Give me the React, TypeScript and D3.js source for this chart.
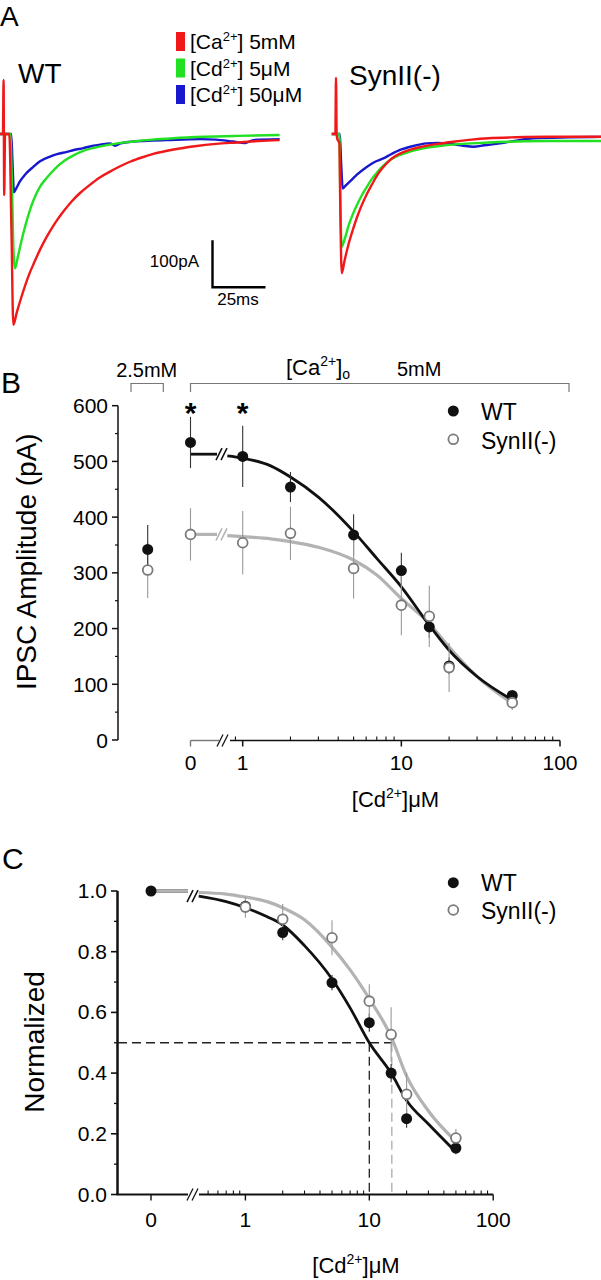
import React from "react";
import * as d3 from "d3";

type Pt = [number, number];

// ---------------- Panel A: IPSC traces  [time (ms from stimulus), current (pA)] ----------------
const wtRed: Pt[] = [[-2,0],[-0.5,0],[-0.2,115],[0.1,-130],[0.5,0],[2.5,0],[3.5,-200],[4.4,-406],[6,-380],[8,-350],[10,-322],[12,-297],[14,-276],[17,-246],[20,-220],[24,-190],[28,-165],[32,-143],[36,-125],[40,-110],[45,-93],[50,-80],[55,-68],[60,-58],[65,-50],[70,-43],[80,-33],[90,-26],[100,-21],[110,-18],[120,-15],[130,-13]];
const wtGreen: Pt[] = [[-2,0],[3.0,0],[3.6,-80],[4.5,-250],[5.2,-286],[6.5,-262],[8,-232],[10,-196],[12,-165],[14,-140],[17,-112],[20,-94],[24,-74],[28.5,-57],[33,-45],[38,-35],[45,-27],[52,-21],[61,-16],[70,-12],[80,-9],[95,-6],[110,-4],[130,-2]];
const wtBlue: Pt[] = [[-2,0],[3.4,0],[4.0,-60],[4.7,-124],[5.5,-118],[7.5,-101],[10,-86],[13.8,-70],[17,-58],[21.7,-48],[25,-43],[29.6,-38],[33,-34],[37.4,-30],[41,-26],[45.3,-23],[50,-20],[52.4,-25],[55,-20],[61,-16],[70,-14],[76.7,-13],[92.5,-11],[100,-12],[108,-16],[113.7,-19],[117.6,-13],[130,-11]];
const synRed: Pt[] = [[-2,0],[-0.3,0],[0,120],[0.3,0],[0.6,-10],[1.6,-20],[2.0,-150],[2.7,-296],[4,-270],[6,-233],[8,-203],[10,-176],[12,-153],[14.5,-128],[17,-107],[19.7,-86],[22,-72],[24.8,-58],[28,-47],[32,-38],[36,-32],[40.6,-27],[48,-21],[56.3,-16],[64,-12],[72,-9],[85,-7],[100,-6],[126,-6]];
const synGreen: Pt[] = [[-2,0],[1.6,0],[2.0,-120],[2.7,-240],[4,-225],[6,-194],[8,-170],[10,-150],[12,-132],[14.5,-113],[17,-95],[19.7,-80],[22,-69],[24.8,-58],[28,-49],[32,-42],[36,-36],[40.6,-31],[48,-26],[56.3,-22],[64,-20],[72,-18],[85,-16],[100,-15],[126,-15]];
const synBlue: Pt[] = [[-2,0],[1.8,0],[2.4,-60],[3.2,-116],[4.5,-110],[6.6,-101],[10,-86],[14.5,-70],[18,-60],[22.3,-52],[26,-43],[30.2,-34],[36,-26],[42.8,-20],[48,-19],[53.8,-21],[60,-25],[64.8,-27],[70,-24],[77.4,-20],[85,-14],[93.1,-9],[110,-7],[126,-6]];

const traceColors = ["#1818cc", "#22e022", "#f01818"]; // blue, green, red
const legendMain = ["[Ca", "[Cd", "[Cd"];
const legendTail = ["] 5mM", "] 5\u03bcM", "] 50\u03bcM"];
const legendColors = ["#f01818", "#22e022", "#1818cc"];
const scaleBarPA = 100;
const scaleBarMS = 25;

// ---------------- Panel B: IPSC amplitude vs [Cd2+] ----------------
const bConc = [0, 1, 2, 5, 10, 15, 20, 50];
const bWtMean = [534, 509, 454, 368, 304, 203, 133, 80];
const bWtErr = [46, 55, 27, 37, 32, 20, 15, 8];
const bSynMean = [369, 354, 371, 308, 242, 222, 130, 67];
const bSynErr = [47, 57, 48, 54, 54, 55, 44, 13];
const bLowCaWt = { mean: 342, err: 44 };
const bLowCaSyn = { mean: 305, err: 50 };
const bFitX = [0.8, 1, 1.5, 2, 3, 5, 7, 10, 15, 20, 30, 50];
const bWtFit = [510, 506, 492, 472, 436, 374, 326, 275, 206, 161, 114, 72];
const bSynFit = [367, 365, 361, 356, 346, 323, 296, 254, 209, 167, 114, 66];
const bWtFit0 = 513;
const bSynFit0 = 369;
const bYTicks = [0, 100, 200, 300, 400, 500, 600];
const bYMinor = [50, 150, 250, 350, 450, 550];
const xMajor = [1, 10, 100];
const bXMinor = [0.9, 2, 3, 4, 5, 6, 7, 8, 9, 20, 30, 40, 50, 60, 70, 80, 90];
const starConc = [0, 1];

// ---------------- Panel C: normalized ----------------
const cConc = [0, 1, 2, 5, 10, 15, 20, 50];
const cWtMean = [1.0, 0.95, 0.863, 0.698, 0.566, 0.4, 0.25, 0.153];
const cWtErr = [0, 0.02, 0.025, 0.025, 0.03, 0.03, 0.03, 0.02];
const cSynConc = [1, 2, 5, 10, 15, 20, 50];
const cSynMean = [0.947, 0.907, 0.846, 0.637, 0.527, 0.33, 0.186];
const cSynErr = [0.035, 0.05, 0.058, 0.056, 0.09, 0.072, 0.03];
const cFitX = [0.42, 0.7, 1, 1.5, 2, 3, 5, 7, 10, 15, 20, 30, 50];
const cWtFit = [0.983, 0.965, 0.945, 0.915, 0.888, 0.82, 0.71, 0.615, 0.5, 0.4, 0.31, 0.232, 0.14];
const cSynFit = [0.995, 0.99, 0.98, 0.965, 0.945, 0.905, 0.815, 0.74, 0.645, 0.52, 0.39, 0.275, 0.175];
const cIC50Wt = 10;
const cIC50Syn = 15.2;
const cYTicks = [0, 0.2, 0.4, 0.6, 0.8, 1.0];
const cYMinor = [0.1, 0.3, 0.5, 0.7, 0.9];
const cXMinor = [0.5, 0.6, 0.7, 0.8, 0.9, 2, 3, 4, 5, 6, 7, 8, 9, 20, 30, 40, 50, 60, 70, 80, 90];

const FONT = "'Liberation Sans', Arial, Helvetica, sans-serif";
const BLACK = "#111";
const GRAY_FIT = "#b3b3b3";
const GRAY_PT = "#7a7a7a";

function Slashes({ x, y, stroke, w = 1.4 }: { x: number; y: number; stroke: string; w?: number }) {
  return (
    <g stroke={stroke} strokeWidth={w}>
      <line x1={x - 3} y1={y + 6} x2={x + 3} y2={y - 6} />
      <line x1={x + 2} y1={y + 6} x2={x + 8} y2={y - 6} />
    </g>
  );
}

export default function App() {
  // Panel A scales
  const tWT = d3.scaleLinear().domain([0, 25]).range([4, 57]);
  const tSyn = d3.scaleLinear().domain([0, 25]).range([336, 389]);
  const iA = d3.scaleLinear().domain([0, -100]).range([134, 181]);
  const traceLine = (xs: d3.ScaleLinear<number, number>) =>
    d3.line<Pt>().x((d) => xs(d[0])).y((d) => iA(d[1])).curve(d3.curveMonotoneX);
  const wtTraces = [wtBlue, wtGreen, wtRed];
  const synTraces = [synBlue, synGreen, synRed];
  const barX = 212.5;
  const barBottom = 287.3;
  const barH = iA(-scaleBarPA) - iA(0);
  const barW = tWT(scaleBarMS) - tWT(0);

  // Panel B scales
  const bx = d3.scaleLog().domain([1, 100]).range([242.7, 560]);
  const by = d3.scaleLinear().domain([0, 600]).range([740, 405.7]);
  const bZeroX = 190.5;
  const bLowX = 147.7;
  const bPos = (c: number) => (c === 0 ? bZeroX : bx(c));
  const bAxisY = 740.5;
  const bBreak = 219;
  const bFitLine = d3.line<number>().x((_, i) => bx(bFitX[i])).y((v) => by(v)).curve(d3.curveMonotoneX);

  // Panel C scales
  const cx = d3.scaleLog().domain([1, 100]).range([245.4, 493.2]);
  const cy = d3.scaleLinear().domain([0, 1]).range([1194.5, 891]);
  const cZeroX = 151;
  const cPos = (c: number) => (c === 0 ? cZeroX : cx(c));
  const cAxisY = 1194.5;
  const cBreak = 190;
  const cFitLine = d3.line<number>().x((_, i) => cx(cFitX[i])).y((v) => cy(v)).curve(d3.curveMonotoneX);

  const R = 5.5;

  return (
    <svg width={601} height={1280} style={{ position: "absolute", left: 0, top: 0, background: "#fff" }} fontFamily={FONT}>
      <rect x={0} y={0} width={601} height={1280} fill="#fff" />
      {/* ================= Panel A ================= */}
      <text x={0} y={26} fontSize={28}>A</text>
      <text x={18} y={83} fontSize={28}>WT</text>
      <text x={349} y={85} fontSize={28}>SynII(-)</text>
      {legendMain.map((m, i) => (
        <g key={"lg" + i}>
          <rect x={176} y={32 + i * 26.5} width={9} height={19} fill={legendColors[i]} />
          <text x={190} y={49 + i * 26.5} fontSize={21}>
            {m}
            <tspan dy={-8} fontSize={13}>2+</tspan>
            <tspan dy={8}>{legendTail[i]}</tspan>
          </text>
        </g>
      ))}
      {wtTraces.map((tr, i) => (
        <path key={"wt" + i} d={traceLine(tWT)(tr) || ""} fill="none" stroke={traceColors[i]} strokeWidth={2.4} strokeLinejoin="round" />
      ))}
      {synTraces.map((tr, i) => (
        <path key={"syn" + i} d={traceLine(tSyn)(tr) || ""} fill="none" stroke={traceColors[i]} strokeWidth={2.4} strokeLinejoin="round" />
      ))}
      <path d={`M${barX},${barBottom - barH} V${barBottom} H${barX + barW}`} fill="none" stroke="#000" strokeWidth={2.4} />
      <text x={199} y={267} fontSize={17} textAnchor="end">100pA</text>
      <text x={238} y={305} fontSize={17} textAnchor="middle">25ms</text>

      {/* ================= Panel B ================= */}
      <text x={1} y={393} fontSize={30}>B</text>
      <text x={146.7} y={377} fontSize={20} textAnchor="middle">2.5mM</text>
      <path d="M131,392 V383.5 H163.3 V392" fill="none" stroke="#777" strokeWidth={1.2} />
      <path d={`M${bZeroX},392 V383.5 H569 V392`} fill="none" stroke="#777" strokeWidth={1.2} />
      <text x={286} y={375} fontSize={22}>
        [Ca<tspan dy={-9} fontSize={14}>2+</tspan>
        <tspan dy={9}>]</tspan>
        <tspan dy={4} fontSize={14}>o</tspan>
      </text>
      <text x={397} y={376} fontSize={20}>5mM</text>
      {starConc.map((c) => (
        <text key={"st" + c} x={bPos(c)} y={423} fontSize={30} fontWeight="bold" textAnchor="middle">*</text>
      ))}
      {/* y axis */}
      <line x1={118} y1={by(600)} x2={118} y2={by(0)} stroke={BLACK} strokeWidth={1.5} />
      {bYTicks.map((t) => (
        <g key={"by" + t}>
          <line x1={112} x2={118} y1={by(t)} y2={by(t)} stroke={BLACK} strokeWidth={1.5} />
          <text x={108} y={by(t) + 7.5} fontSize={21} textAnchor="end">{t}</text>
        </g>
      ))}
      {bYMinor.map((t) => (
        <line key={"bym" + t} x1={115} x2={118} y1={by(t)} y2={by(t)} stroke={BLACK} strokeWidth={1.2} />
      ))}
      <text transform="translate(35.5,561.7) rotate(-90)" fontSize={28} textAnchor="middle">IPSC Amplitude (pA)</text>
      {/* x axis */}
      <line x1={bZeroX} x2={bBreak} y1={bAxisY} y2={bAxisY} stroke="#777" strokeWidth={1.4} />
      <line x1={bZeroX} x2={bZeroX} y1={bAxisY} y2={bAxisY + 6} stroke="#777" strokeWidth={1.4} />
      <Slashes x={bBreak + 1} y={bAxisY} stroke={BLACK} w={1.2} />
      <line x1={bBreak + 11} x2={bx(100)} y1={bAxisY} y2={bAxisY} stroke={BLACK} strokeWidth={1.5} />
      {xMajor.map((t) => (
        <line key={"bxM" + t} x1={bx(t)} x2={bx(t)} y1={bAxisY} y2={bAxisY + 6} stroke={BLACK} strokeWidth={1.5} />
      ))}
      {bXMinor.map((t) => (
        <line key={"bxm" + t} x1={bx(t)} x2={bx(t)} y1={bAxisY} y2={bAxisY - 4} stroke={BLACK} strokeWidth={1.1} />
      ))}
      <text x={bZeroX} y={770} fontSize={21} textAnchor="middle">0</text>
      {xMajor.map((t) => (
        <text key={"bxl" + t} x={bx(t)} y={770} fontSize={21} textAnchor="middle">{t}</text>
      ))}
      <text x={395.5} y={807} fontSize={22} textAnchor="middle">
        [Cd<tspan dy={-9} fontSize={14}>2+</tspan>
        <tspan dy={9}>]{"\u03bc"}M</tspan>
      </text>
      {/* fits */}
      <line x1={bZeroX} x2={bBreak - 2} y1={by(bSynFit0)} y2={by(bSynFit0)} stroke={GRAY_FIT} strokeWidth={3.2} />
      <Slashes x={bBreak} y={by(bSynFit0)} stroke={GRAY_FIT} w={1.6} />
      <path d={bFitLine(bSynFit) || ""} fill="none" stroke={GRAY_FIT} strokeWidth={3.2} />
      <line x1={bZeroX} x2={bBreak - 2} y1={by(bWtFit0)} y2={by(bWtFit0)} stroke={BLACK} strokeWidth={2.8} />
      <Slashes x={bBreak} y={by(bWtFit0)} stroke={BLACK} w={1.6} />
      <path d={bFitLine(bWtFit) || ""} fill="none" stroke={BLACK} strokeWidth={2.8} />
      {/* error bars */}
      {bConc.map((c, i) => (
        <line key={"bwe" + i} x1={bPos(c)} x2={bPos(c)} y1={by(bWtMean[i] - bWtErr[i])} y2={by(bWtMean[i] + bWtErr[i])} stroke="#333" strokeWidth={1.1} />
      ))}
      {bConc.map((c, i) => (
        <line key={"bse" + i} x1={bPos(c)} x2={bPos(c)} y1={by(bSynMean[i] - bSynErr[i])} y2={by(bSynMean[i] + bSynErr[i])} stroke="#999" strokeWidth={1.1} />
      ))}
      <line x1={bLowX} x2={bLowX} y1={by(bLowCaSyn.mean - bLowCaSyn.err)} y2={by(bLowCaSyn.mean + bLowCaSyn.err)} stroke="#999" strokeWidth={1.1} />
      <line x1={bLowX} x2={bLowX} y1={by(bLowCaWt.mean - bLowCaWt.err)} y2={by(bLowCaWt.mean + bLowCaWt.err)} stroke="#333" strokeWidth={1.1} />
      {/* points */}
      {bConc.map((c, i) => (
        <circle key={"bwp" + i} cx={bPos(c)} cy={by(bWtMean[i])} r={R} fill={BLACK} />
      ))}
      <circle cx={bLowX} cy={by(bLowCaWt.mean)} r={R} fill={BLACK} />
      {bConc.map((c, i) => (
        <circle key={"bsp" + i} cx={bPos(c)} cy={by(bSynMean[i])} r={R - 0.6} fill="#fff" stroke={GRAY_PT} strokeWidth={1.8} />
      ))}
      <circle cx={bLowX} cy={by(bLowCaSyn.mean)} r={R - 0.6} fill="#fff" stroke={GRAY_PT} strokeWidth={1.8} />
      {/* legend */}
      <circle cx={453.3} cy={411} r={R} fill={BLACK} />
      <text x={481} y={420} fontSize={23}>WT</text>
      <circle cx={453.3} cy={439.3} r={R - 0.6} fill="#fff" stroke={GRAY_PT} strokeWidth={1.8} />
      <text x={481} y={448.5} fontSize={23}>SynII(-)</text>

      {/* ================= Panel C ================= */}
      <text x={2} y={869} fontSize={30}>C</text>
      <line x1={117.5} y1={cy(1)} x2={117.5} y2={cAxisY} stroke={BLACK} strokeWidth={2.5} />
      {cYTicks.map((t) => (
        <g key={"cy" + t}>
          <line x1={111} x2={117.5} y1={cy(t)} y2={cy(t)} stroke={BLACK} strokeWidth={1.6} />
          <text x={107} y={cy(t) + 7} fontSize={21} textAnchor="end">{t.toFixed(1)}</text>
        </g>
      ))}
      {cYMinor.map((t) => (
        <line key={"cym" + t} x1={114} x2={117.5} y1={cy(t)} y2={cy(t)} stroke={BLACK} strokeWidth={1.3} />
      ))}
      <text transform="translate(44,1042) rotate(-90)" fontSize={28} textAnchor="middle">Normalized</text>
      <line x1={116.5} x2={cBreak - 2} y1={cAxisY} y2={cAxisY} stroke={BLACK} strokeWidth={2} />
      <Slashes x={cBreak} y={cAxisY} stroke={BLACK} w={1.3} />
      <line x1={cBreak + 9} x2={cx(100)} y1={cAxisY} y2={cAxisY} stroke={BLACK} strokeWidth={2} />
      <line x1={cZeroX} x2={cZeroX} y1={cAxisY} y2={cAxisY + 6} stroke={BLACK} strokeWidth={1.4} />
      {xMajor.map((t) => (
        <line key={"cxM" + t} x1={cx(t)} x2={cx(t)} y1={cAxisY} y2={cAxisY + 6} stroke={BLACK} strokeWidth={1.4} />
      ))}
      {cXMinor.map((t) => (
        <line key={"cxm" + t} x1={cx(t)} x2={cx(t)} y1={cAxisY} y2={cAxisY - 4} stroke={BLACK} strokeWidth={1.1} />
      ))}
      <text x={cZeroX} y={1227} fontSize={21} textAnchor="middle">0</text>
      {xMajor.map((t) => (
        <text key={"cxl" + t} x={cx(t)} y={1227} fontSize={21} textAnchor="middle">{t}</text>
      ))}
      <text x={356} y={1273} fontSize={22} textAnchor="middle">
        [Cd<tspan dy={-9} fontSize={14}>2+</tspan>
        <tspan dy={9}>]{"\u03bc"}M</tspan>
      </text>
      {/* IC50 dashed lines */}
      <line x1={118} x2={cx(cIC50Syn)} y1={cy(0.5)} y2={cy(0.5)} stroke="#222" strokeWidth={1.3} strokeDasharray="9,5" />
      <line x1={cx(cIC50Wt)} x2={cx(cIC50Wt)} y1={cy(0.5)} y2={cAxisY} stroke="#222" strokeWidth={1.3} strokeDasharray="9,5" />
      <line x1={cx(cIC50Syn)} x2={cx(cIC50Syn)} y1={cy(0.5)} y2={cAxisY} stroke="#aaa" strokeWidth={1.3} strokeDasharray="9,5" />
      {/* fits */}
      <line x1={cZeroX} x2={cBreak - 2} y1={cy(1)} y2={cy(1)} stroke={BLACK} strokeWidth={2.8} />
      <Slashes x={cBreak} y={cy(cWtFit[0])} stroke={BLACK} w={1.6} />
      <path d={cFitLine(cWtFit) || ""} fill="none" stroke={BLACK} strokeWidth={2.8} />
      <line x1={cZeroX} x2={cBreak - 2} y1={cy(1)} y2={cy(1)} stroke={GRAY_FIT} strokeWidth={3.2} />
      <path d={cFitLine(cSynFit) || ""} fill="none" stroke={GRAY_FIT} strokeWidth={3.2} />
      {/* error bars */}
      {cConc.map((c, i) => (
        <line key={"cwe" + i} x1={cPos(c)} x2={cPos(c)} y1={cy(cWtMean[i] - cWtErr[i])} y2={cy(cWtMean[i] + cWtErr[i])} stroke="#333" strokeWidth={1.1} />
      ))}
      {cSynConc.map((c, i) => (
        <line key={"cse" + i} x1={cPos(c)} x2={cPos(c)} y1={cy(cSynMean[i] - cSynErr[i])} y2={cy(cSynMean[i] + cSynErr[i])} stroke="#999" strokeWidth={1.1} />
      ))}
      {/* points */}
      {cConc.map((c, i) => (
        <circle key={"cwp" + i} cx={cPos(c)} cy={cy(cWtMean[i])} r={R} fill={BLACK} />
      ))}
      {cSynConc.map((c, i) => (
        <circle key={"csp" + i} cx={cPos(c)} cy={cy(cSynMean[i])} r={R - 0.6} fill="#fff" stroke={GRAY_PT} strokeWidth={1.8} />
      ))}
      {/* legend */}
      <circle cx={453.3} cy={882.7} r={R} fill={BLACK} />
      <text x={481} y={890.5} fontSize={23}>WT</text>
      <circle cx={453.3} cy={910} r={R - 0.6} fill="#fff" stroke={GRAY_PT} strokeWidth={1.8} />
      <text x={481} y={919} fontSize={23}>SynII(-)</text>
    </svg>
  );
}
